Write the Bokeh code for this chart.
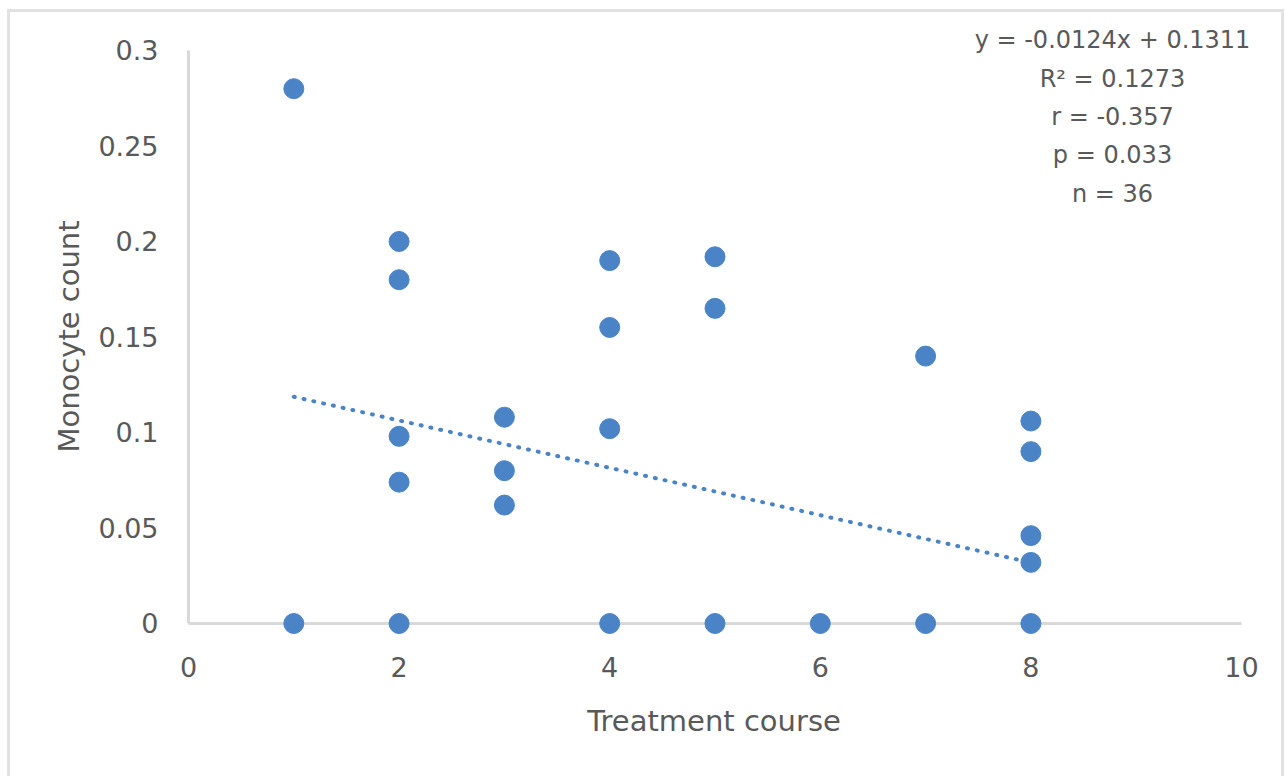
from bokeh.plotting import figure
from bokeh.models import Range1d, Label, FixedTicker
from bokeh.embed import file_html
from bokeh.resources import INLINE

# ---- data ----
course = [1, 1, 2, 2, 2, 2, 2, 3, 3, 3, 4, 4, 4, 4, 5, 5, 5, 6, 7, 7, 8, 8, 8, 8, 8]
monocyte = [0.280, 0.0, 0.200, 0.180, 0.098, 0.074, 0.0, 0.108, 0.080, 0.062,
            0.190, 0.155, 0.102, 0.0, 0.192, 0.165, 0.0, 0.0, 0.140, 0.0,
            0.106, 0.090, 0.046, 0.032, 0.0]

slope = -0.0124
intercept = 0.1311
stats_lines = ["y = -0.0124x + 0.1311", "R² = 0.1273", "r = -0.357", "p = 0.033", "n = 36"]

x_ticks = [0, 2, 4, 6, 8, 10]
x_tick_labels = ["0", "2", "4", "6", "8", "10"]
y_ticks = [0, 0.05, 0.1, 0.15, 0.2, 0.25, 0.3]
y_tick_labels = ["0", "0.05", "0.1", "0.15", "0.2", "0.25", "0.3"]

x_title = "Treatment course"
y_title = "Monocyte count"

# ---- style ----
FONT = "DejaVu Sans"
TXT = "#595959"
AXIS = "#d9d9d9"
BLUE = "#4a84c6"

p = figure(width=1271, height=764, output_backend="svg", toolbar_location=None,
           x_range=Range1d(-0.2659, 10.2469), y_range=Range1d(-0.015707, 0.31623),
           min_border_left=150, min_border_right=20, min_border_top=7, min_border_bottom=126)
p.styles = {"box-sizing": "content-box", "margin-left": "7px", "margin-top": "9px",
            "border-style": "solid", "border-color": "#e2e2e2", "border-width": "3px 3px 0 3px"}
p.outline_line_color = None
p.xgrid.visible = False
p.ygrid.visible = False

for ax in (p.xaxis[0], p.yaxis[0]):
    ax.axis_line_color = None
    ax.major_tick_line_color = None
    ax.minor_tick_line_color = None
    ax.major_tick_out = 0
    ax.major_tick_in = 0
    ax.major_label_text_font = FONT
    ax.major_label_text_font_size = "27px"
    ax.major_label_text_color = TXT
    ax.axis_label_text_font = FONT
    ax.axis_label_text_font_size = "29px"
    ax.axis_label_text_font_style = "normal"
    ax.axis_label_text_color = TXT

p.xaxis.ticker = FixedTicker(ticks=x_ticks)
p.xaxis.major_label_overrides = {t: l for t, l in zip(x_ticks, x_tick_labels)}
p.yaxis.ticker = FixedTicker(ticks=y_ticks)
p.yaxis.major_label_overrides = {t: l for t, l in zip(y_ticks, y_tick_labels)}
p.xaxis.major_label_standoff = 3
p.yaxis.major_label_standoff = 2

p.xaxis.axis_label = x_title
p.xaxis.axis_label_standoff = 24
p.yaxis.axis_label = y_title
p.yaxis.axis_label_standoff = 9

# axis lines drawn at the data origin
p.segment(x0=[x_ticks[0]], y0=[y_ticks[0]], x1=[x_ticks[-1]], y1=[y_ticks[0]],
          line_color=AXIS, line_width=3)
p.segment(x0=[x_ticks[0]], y0=[y_ticks[0]], x1=[x_ticks[0]], y1=[y_ticks[-1]],
          line_color=AXIS, line_width=3)

# points
p.scatter(course, monocyte, size=20, fill_color=BLUE, line_color=BLUE)

# linear trendline
xs = [min(course), max(course)]
ys = [slope * v + intercept for v in xs]
p.line(xs, ys, line_color=BLUE, line_width=4, line_dash="1 9", line_cap="round")

# stats annotation (top right, centred lines)
for i, s in enumerate(stats_lines):
    p.add_layout(Label(x=8.775, y=0.30524 - 0.02005 * i, text=s,
                       text_font=FONT, text_font_size="24px", text_color=TXT,
                       text_align="center", text_baseline="alphabetic"))

open("out.html", "w").write(file_html(p, INLINE))
